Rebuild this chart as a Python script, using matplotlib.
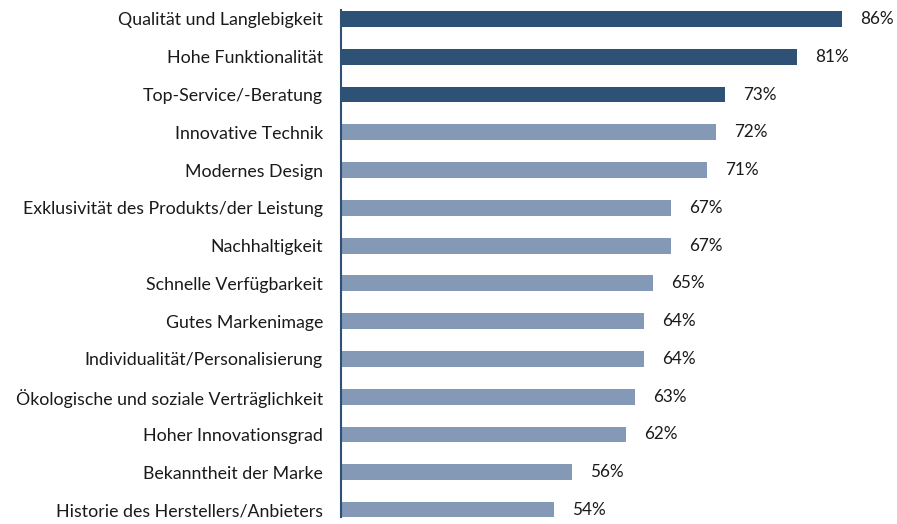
import matplotlib.pyplot as plt

# Data
categories = [
    "Qualität und Langlebigkeit",
    "Hohe Funktionalität",
    "Top-Service/-Beratung",
    "Innovative Technik",
    "Modernes Design",
    "Exklusivität des Produkts/der Leistung",
    "Nachhaltigkeit",
    "Schnelle Verfügbarkeit",
    "Gutes Markenimage",
    "Individualität/Personalisierung",
    "Ökologische und soziale Verträglichkeit",
    "Hoher Innovationsgrad",
    "Bekanntheit der Marke",
    "Historie des Herstellers/Anbieters",
]
values = [86, 81, 73, 72, 71, 67, 67, 65, 64, 64, 63, 62, 56, 54]
highlight = [True, True, True] + [False] * 11

dark = "#2d5275"
light = "#8499b5"
colors = [dark if h else light for h in highlight]

plt.rcParams["font.family"] = ["Lato", "DejaVu Sans"]

W, H = 897, 524
fig = plt.figure(figsize=(W / 100, H / 100), dpi=100)
ax = fig.add_axes([341 / W, 7 / H, 555 / W, 507 / H])

y = list(range(len(categories)))
ax.barh(y, values, height=0.42, color=colors, left=0)
ax.set_xlim(30.33, 92)
ax.set_ylim(13 + 7 / 37.8, -9 / 37.8)

for yi, v in zip(y, values):
    ax.text(v + 2.0, yi, f"{v}%", va="center", ha="left", fontsize=12.3, color="#1a1a1a")

ax.set_yticks(y)
ax.set_yticklabels(categories, fontsize=12.8, color="#1a1a1a")
ax.tick_params(axis="y", length=0, pad=13)
ax.set_xticks([])
for s in ["top", "right", "bottom"]:
    ax.spines[s].set_visible(False)
ax.spines["left"].set_color(dark)
ax.spines["left"].set_linewidth(1.5)

fig.savefig("out.png", dpi=100)
